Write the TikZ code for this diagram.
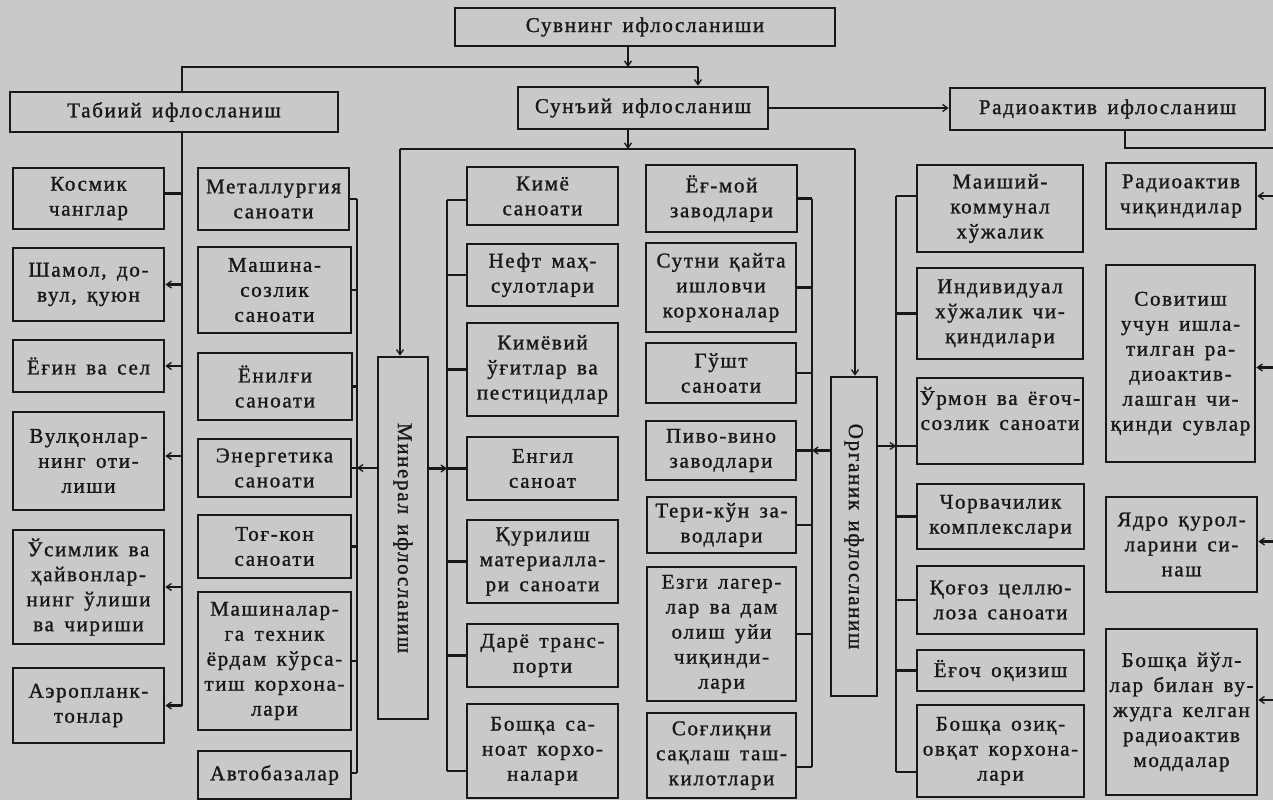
\documentclass[tikz,border=0pt]{standalone}
\usepackage{fontspec}
\setmainfont{Liberation Serif}[LetterSpace=8,WordSpace=1.5,FakeBold=1.2]
\usetikzlibrary{arrows.meta,calc}
\definecolor{bg}{RGB}{201,201,201}
\definecolor{ink}{RGB}{24,24,24}
\newcommand\bxfont{\fontsize{21}{25}\selectfont}
\newcommand\mkbox[6]{\node[box, minimum width={(#4)-(#2)}, minimum height={(#5)-(#3)}] (#1) at ({((#2)+(#4))/2},{((#3)+(#5))/2}) {#6};}
\tikzset{
  box/.style={draw=ink, line width=2.7pt, fill=bg, inner sep=0pt, align=center, font=\bxfont, text=ink},
  wire/.style={draw=ink, line width=2.1pt},
  arr/.style={wire, -{Straight Barb[length=5pt,width=7pt,line width=1.3pt]}},
  rot/.style={rotate=-90, font=\bxfont, text=ink, inner sep=0pt},
}
\begin{document}
\begin{tikzpicture}[x=1pt,y=-1pt]
\useasboundingbox (0,0) rectangle (1273,800);
\clip (0,0) rectangle (1273,800);
\fill[bg] (0,0) rectangle (1273,800);

% headers
\mkbox{title}{455}{8}{835}{46}{Сувнинг ифлосланиши}
\mkbox{tab}{10}{92}{338}{132}{Табиий ифлосланиш}
\mkbox{sun}{518}{87}{768}{129}{Сунъий ифлосланиш}
\mkbox{rad}{950}{88}{1265}{130}{Радиоактив ифлосланиш}

% column 1
\mkbox{kos}{13}{168}{164}{229}{Космик\\чанглар}
\mkbox{sham}{13}{248}{164}{321}{Шамол, до-\\вул, қуюн}
\mkbox{yog}{13}{340}{164}{392}{Ёғин ва сел}
\mkbox{vul}{13}{412}{164}{510}{Вулқонлар-\\нинг оти-\\лиши}
\mkbox{usim}{13}{530}{164}{644}{Ўсимлик ва\\ҳайвонлар-\\нинг ўлиши\\ва чириши}
\mkbox{aero}{13}{668}{164}{743}{Аэропланк-\\тонлар}

% column 2
\mkbox{met}{198}{168}{349}{230}{Металлургия\\саноати}
\mkbox{mash}{198}{247}{351}{333}{Машина-\\созлик\\саноати}
\mkbox{yon}{198}{353}{352}{420}{Ёнилғи\\саноати}
\mkbox{ener}{198}{439}{351}{497}{Энергетика\\саноати}
\mkbox{tog}{198}{515}{351}{578}{Тоғ-кон\\саноати}
\mkbox{mtex}{198}{592}{351}{730}{Машиналар-\\га техник\\ёрдам кўрса-\\тиш корхона-\\лари}
\mkbox{avto}{198}{751}{351}{799}{Автобазалар}

% mineral
\mkbox{min}{378}{357}{428}{719}{}
\node[rot] (minlbl) at (min.center) {Минерал ифлосланиш};

% column 3
\mkbox{kim}{467}{167}{618}{225}{Кимё\\саноати}
\mkbox{neft}{467}{244}{618}{306}{Нефт маҳ-\\сулотлари}
\mkbox{kimv}{467}{323}{618}{416}{Кимёвий\\ўғитлар ва\\пестицидлар}
\mkbox{engil}{467}{437}{618}{500}{Енгил\\саноат}
\mkbox{qur}{467}{520}{618}{603}{Қурилиш\\материалла-\\ри саноати}
\mkbox{dar}{467}{624}{618}{687}{Дарё транс-\\порти}
\mkbox{bsan}{467}{704}{618}{798}{Бошқа са-\\ноат корхо-\\налари}

% column 4
\mkbox{yog2}{646}{165}{797}{232}{Ёғ-мой\\заводлари}
\mkbox{sut}{646}{243}{796}{332}{Сутни қайта\\ишловчи\\корхоналар}
\mkbox{gusht}{646}{343}{796}{403}{Гўшт\\саноати}
\mkbox{pivo}{646}{421}{796}{480}{Пиво-вино\\заводлари}
\mkbox{teri}{647}{497}{796}{553}{Тери-кўн за-\\водлари}
\mkbox{yezgi}{647}{567}{796}{701}{Езги лагер-\\лар ва дам\\олиш уйи\\чиқинди-\\лари}
\mkbox{sogl}{647}{713}{796}{798}{Соғлиқни\\сақлаш таш-\\килотлари}

% organic
\mkbox{org}{831}{377}{877}{696}{}
\node[rot] (orglbl) at (org.center) {Органик ифлосланиш};

% column 5
\mkbox{maish}{917}{165}{1083}{252}{Маиший-\\коммунал\\хўжалик}
\mkbox{indiv}{917}{268}{1083}{359}{Индивидуал\\хўжалик чи-\\қиндилари}
\mkbox{urmon}{917}{378}{1083}{464}{Ўрмон ва ёғоч-\\созлик саноати\\\phantom{x}}
\mkbox{chorva}{917}{484}{1084}{549}{Чорвачилик\\комплекслари}
\mkbox{qogoz}{917}{566}{1084}{634}{Қоғоз целлю-\\лоза саноати}
\mkbox{yogoch}{917}{650}{1084}{691}{Ёғоч оқизиш}
\mkbox{bozq}{917}{705}{1084}{797}{Бошқа озиқ-\\овқат корхона-\\лари}

% column 6
\mkbox{radch}{1106}{163}{1256}{229}{Радиоактив\\чиқиндилар}
\mkbox{sovit}{1106}{265}{1255}{462}{Совитиш\\учун ишла-\\тилган ра-\\диоактив-\\лашган чи-\\қинди сувлар}
\mkbox{yadro}{1106}{497}{1257}{592}{Ядро қурол-\\ларини си-\\наш}
\mkbox{byul}{1106}{629}{1257}{795}{Бошқа йўл-\\лар билан ву-\\жудга келган\\радиоактив\\моддалар}

% ---- top connectors
\coordinate (tA) at (628,67);
\coordinate (tL) at (182,67);
\coordinate (tR) at (698,67);
\draw[arr] (title.south -| tA) -- (tA);
\draw[wire] (tab.north -| tL) -- (tL) -- (tR);
\draw[arr] (tR) -- (tR |- sun.north);
\draw[arr] (sun.east) -- (sun.east -| rad.west);

% radio branch
\coordinate (rA) at (1125,148);
\coordinate (rB) at (1277,148);
\coordinate (rC) at (1277,700);
\draw[wire] (rad.south -| rA) -- (rA) -- (rB) -- (rC);
\draw[arr] (radch.east -| rB) -- (radch.east);
\draw[arr] ([yshift=-4pt]sovit.east -| rB) -- ([yshift=-4pt]sovit.east);
\draw[arr] ([yshift=3pt]yadro.east -| rB) -- ([yshift=3pt]yadro.east);
\draw[arr] (rC) -- (rC -| byul.east);

% artificial branch
\coordinate (sA) at (628,149);
\coordinate (sL) at (400,149);
\coordinate (sR) at (855,149);
\draw[arr] (sun.south -| sA) -- (sA);
\draw[wire] (sL) -- (sR);
\draw[arr] (sL) -- (sL |- min.north);
\draw[arr] (sR) -- (sR |- org.north);

% natural bus
\coordinate (tb) at (182,0);
\draw[wire] (tab.south -| tb) -- (aero.east -| tb);
\draw[wire] ([yshift=5pt]kos.east -| tb) -- ([yshift=5pt]kos.east);
\draw[arr] (sham.east -| tb) -- (sham.east);
\draw[arr] (yog.east -| tb) -- (yog.east);
\draw[arr] ([yshift=5pt]vul.east -| tb) -- ([yshift=5pt]vul.east);
\draw[arr] (usim.east -| tb) -- (usim.east);
\draw[arr] (aero.east -| tb) -- (aero.east);

% mineral left bus
\coordinate (ml) at (357,0);
\coordinate (mlB) at (357,773);
\draw[wire] (met.east -| ml) -- (mlB);
\foreach \b in {met,mash,yon,ener,tog,mtex}{\draw[wire] (\b.east) -- (\b.east -| ml);}
\draw[wire] (mlB) -- (mlB -| avto.east);
\draw[arr] (min.west |- ener.east) -- (ener.east -| ml);

% mineral right bus
\coordinate (mr) at (447,0);
\coordinate (mrB) at (447,771);
\draw[wire] ([yshift=-4pt]kim.west -| mr) -- (mrB);
\draw[wire] ([yshift=-4pt]kim.west -| mr) -- ([yshift=-4pt]kim.west);
\foreach \b in {neft,kimv,engil,qur,dar}{\draw[wire] (\b.west -| mr) -- (\b.west);}
\draw[wire] (mrB) -- (mrB -| bsan.west);
\draw[arr] (min.east |- engil.west) -- (engil.west -| mr);

% organic left bus
\coordinate (ol) at (812,0);
\coordinate (olB) at (812,767);
\draw[wire] (yog2.east -| ol) -- (olB);
\foreach \b in {yog2,sut,gusht,pivo,teri,yezgi}{\draw[wire] (\b.east) -- (\b.east -| ol);}
\draw[wire] (olB) -- (olB -| sogl.east);
\draw[arr] (org.west |- pivo.east) -- (pivo.east -| ol);

% organic right bus
\coordinate (orT) at (896,196);
\coordinate (orU) at (896,446);
\coordinate (orB) at (896,772);
\draw[wire] (orT) -- (orB);
\draw[wire] (orT) -- (orT -| maish.west);
\foreach \b in {indiv,chorva,qogoz,yogoch}{\draw[wire] (\b.west -| orT) -- (\b.west);}
\draw[wire] (orU) -- (orU -| urmon.west);
\draw[wire] (orB) -- (orB -| bozq.west);
\draw[arr] (org.east |- orU) -- (orU);
\end{tikzpicture}
\end{document}
